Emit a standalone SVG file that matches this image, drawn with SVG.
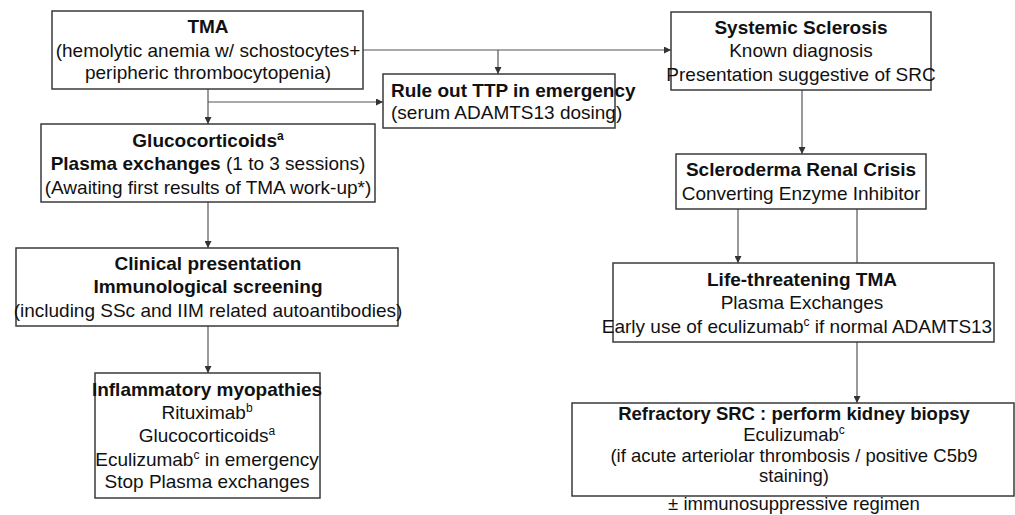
<svg xmlns="http://www.w3.org/2000/svg" width="1015" height="515" viewBox="0 0 1015 515">
<style>
  .box { fill: #ffffff; stroke: #3a3a3a; stroke-width: 1.5; }
  .conn { stroke: #555555; stroke-width: 1.2; fill: none; }
  text { font-family: "Liberation Sans", Arial, sans-serif; font-size: 19px; fill: #111111; }
  .c { text-anchor: middle; }
  .b { font-weight: bold; }
  .sup { font-size: 12px; }
  .sm { font-size: 18.5px; }
</style>
<defs>
  <marker id="arr" viewBox="0 0 10 10" refX="10" refY="5" markerWidth="7" markerHeight="7" orient="auto" markerUnits="userSpaceOnUse">
    <path d="M0,0 L10,5 L0,10 z" fill="#333333"/>
  </marker>
</defs>
<rect width="1015" height="515" fill="#ffffff"/>
<g id="connectors">
  <line class="conn" x1="208" y1="89" x2="208" y2="124" marker-end="url(#arr)"/>
  <line class="conn" x1="208" y1="102" x2="383" y2="102" marker-end="url(#arr)"/>
  <line class="conn" x1="363" y1="50" x2="671" y2="50" marker-end="url(#arr)"/>
  <line class="conn" x1="498" y1="50" x2="498" y2="74" marker-end="url(#arr)"/>
  <line class="conn" x1="802" y1="90" x2="802" y2="154" marker-end="url(#arr)"/>
  <line class="conn" x1="738" y1="209" x2="738" y2="263" marker-end="url(#arr)"/>
  <line class="conn" x1="857" y1="209" x2="857" y2="403" marker-end="url(#arr)"/>
  <line class="conn" x1="208" y1="202" x2="208" y2="248" marker-end="url(#arr)"/>
  <line class="conn" x1="208" y1="326" x2="208" y2="373" marker-end="url(#arr)"/>
</g>
<g id="tma">
  <rect class="box" x="52" y="11" width="311" height="78"/>
  <text class="c b" x="208" y="33">TMA</text>
  <text class="c" x="208" y="57">(hemolytic anemia w/ schostocytes+</text>
  <text class="c" x="208" y="79">peripheric thrombocytopenia)</text>
</g>
<g id="ruleout">
  <rect class="box" x="383" y="74" width="232" height="54"/>
  <text class="b" x="391" y="97">Rule out TTP in emergency</text>
  <text x="391" y="119">(serum ADAMTS13 dosing)</text>
</g>
<g id="ssc">
  <rect class="box" x="671" y="12" width="260" height="78"/>
  <text class="c b" x="801" y="34">Systemic Sclerosis</text>
  <text class="c" x="801" y="57">Known diagnosis</text>
  <text class="c" x="801" y="81">Presentation suggestive of SRC</text>
</g>
<g id="gluco">
  <rect class="box" x="41" y="124" width="334" height="78"/>
  <text class="c b" x="208" y="147">Glucocorticoids<tspan class="sup" dy="-7">a</tspan></text>
  <text class="c" x="208" y="170"><tspan class="b">Plasma exchanges</tspan> (1 to 3 sessions)</text>
  <text class="c" x="208" y="194">(Awaiting first results of TMA work-up*)</text>
</g>
<g id="clinical">
  <rect class="box" x="16" y="248" width="382" height="78"/>
  <text class="c b" x="208" y="270">Clinical presentation</text>
  <text class="c b" x="208" y="293">Immunological screening</text>
  <text class="c" x="208" y="317">(including SSc and IIM related autoantibodies)</text>
</g>
<g id="iim">
  <rect class="box" x="95" y="373" width="225" height="125"/>
  <text class="c b" x="207" y="396">Inflammatory myopathies</text>
  <text class="c" x="207" y="419">Rituximab<tspan class="sup" dy="-7">b</tspan></text>
  <text class="c" x="207" y="442">Glucocorticoids<tspan class="sup" dy="-7">a</tspan></text>
  <text class="c" x="207" y="466">Eculizumab<tspan class="sup" dy="-7">c</tspan><tspan dy="7"> in emergency</tspan></text>
  <text class="c" x="207" y="488">Stop Plasma exchanges</text>
</g>
<g id="src">
  <rect class="box" x="676" y="154" width="250" height="55"/>
  <text class="c b" x="801" y="176">Scleroderma Renal Crisis</text>
  <text class="c" x="801" y="200">Converting Enzyme Inhibitor</text>
</g>
<g id="life">
  <rect class="box" x="613" y="263" width="381" height="79"/>
  <text class="c b" x="802" y="286">Life-threatening TMA</text>
  <text class="c" x="802" y="309">Plasma Exchanges</text>
  <text class="c" x="797" y="333">Early use of eculizumab<tspan class="sup" dy="-7">c</tspan><tspan dy="7"> if normal ADAMTS13</tspan></text>
</g>
<g id="refractory">
  <rect class="box" x="572" y="403" width="442" height="93"/>
  <text class="c b sm" x="794" y="420">Refractory SRC : perform kidney biopsy</text>
  <text class="c sm" x="794" y="441">Eculizumab<tspan class="sup" dy="-7">c</tspan></text>
  <text class="c sm" x="794" y="462">(if acute arteriolar thrombosis / positive C5b9</text>
  <text class="c sm" x="794" y="482">staining)</text>
  <text class="c sm" x="794" y="510">± immunosuppressive regimen</text>
</g>
</svg>
